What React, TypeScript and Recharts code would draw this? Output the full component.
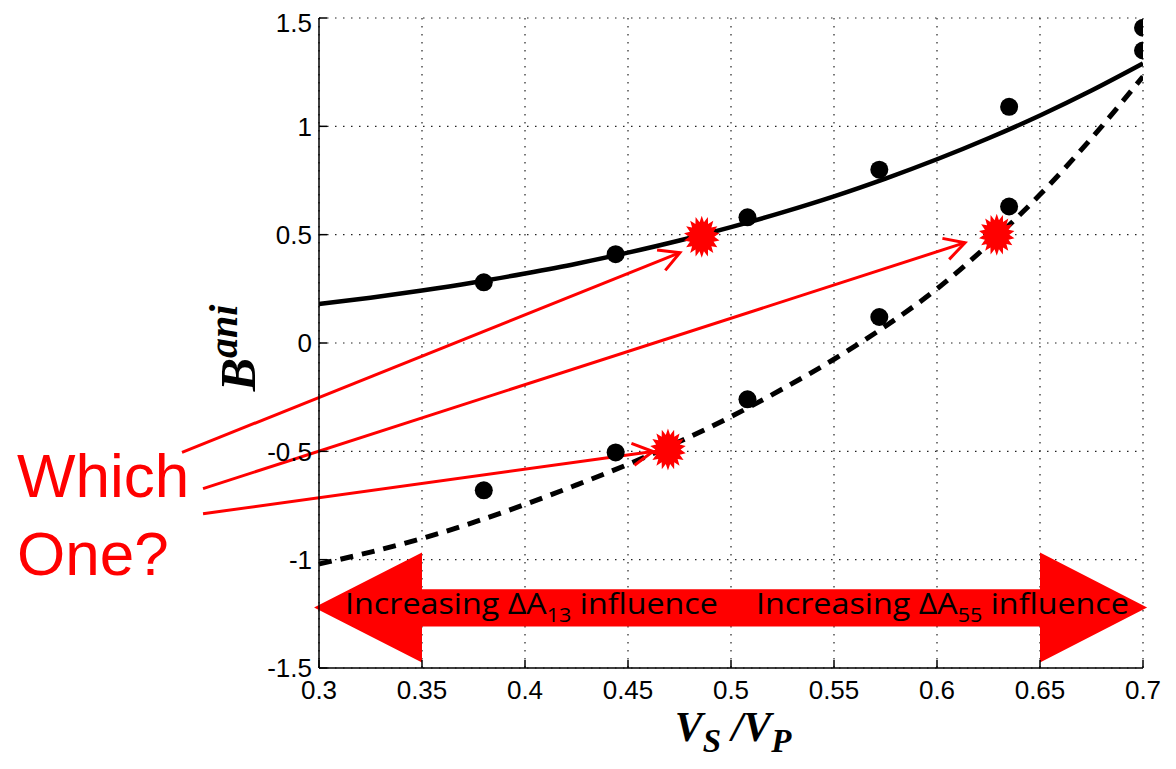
import {
  ComposedChart,
  Line,
  Scatter,
  XAxis,
  YAxis,
  CartesianGrid,
  ReferenceLine,
  ReferenceArea,
  ReferenceDot,
} from 'recharts';

// measured points (Vs/Vp, B^ani)
const vsvp = [0.38, 0.444, 0.508, 0.572, 0.635, 0.7];
const bAniUpper = [0.28, 0.41, 0.58, 0.8, 1.09, 1.455];
const bAniLower = [-0.68, -0.505, -0.26, 0.12, 0.63, 1.35];

// fitted curves
const fitX = [0.3, 0.325, 0.35, 0.375, 0.4, 0.425, 0.45, 0.475, 0.5, 0.525, 0.55, 0.575, 0.6, 0.625, 0.65, 0.675, 0.7];
const fitSolid = [0.18, 0.209, 0.242, 0.279, 0.321, 0.366, 0.417, 0.473, 0.535, 0.603, 0.677, 0.759, 0.848, 0.945, 1.05, 1.165, 1.29];
const fitDashed = [-1.02, -0.965, -0.902, -0.828, -0.745, -0.655, -0.56, -0.455, -0.34, -0.212, -0.075, 0.078, 0.25, 0.455, 0.685, 0.945, 1.23];

// red "which one?" candidates
const starX = [0.4858, 0.629, 0.4694];
const starY = [0.49, 0.5, -0.492];

// annotation arrows: start -> tip
const arrowFrom = [[0.2335, -0.505], [0.2437, -0.672], [0.2437, -0.788]];
const arrowTo = [[0.4752, 0.417], [0.6136, 0.463], [0.4621, -0.501]];

// big double arrow: tip, head base, head base, tip / head bottom, body bottom, body top, head top
const bigArrowX = [0.2976, 0.35, 0.65, 0.702];
const bigArrowY = [-1.475, -1.308, -1.136, -0.967];
const bigArrowTextX = [0.3126, 0.5121];
const bigArrowTextY = -1.252;
const bigArrowSubs = ['13', '55'];

const xTicks = [0.3, 0.35, 0.4, 0.45, 0.5, 0.55, 0.6, 0.65, 0.7];
const yTicks = [-1.5, -1, -0.5, 0, 0.5, 1, 1.5];

const pts = (xs: number[], ys: number[]) => xs.map((x, i) => ({ x, y: ys[i] }));

const RED = '#ff0000';

const Dot = (p: any) => <circle cx={p.cx} cy={p.cy} r={9} fill="#000" />;

const Star = (p: any) => {
  const n = 18;
  const out: string[] = [];
  for (let i = 0; i < n * 2; i++) {
    const a = (Math.PI * i) / n - Math.PI / 2;
    const k = i % 2 === 0 ? 1 : 0.7;
    out.push(`${p.cx + Math.cos(a) * 18 * k},${p.cy + Math.sin(a) * 21 * k}`);
  }
  return <polygon points={out.join(' ')} fill={RED} />;
};

const RedArrow = (p: any) => {
  const { x1, y1, x2, y2 } = p;
  const ang = Math.atan2(y2 - y1, x2 - x1);
  const L = 23;
  const a = 0.5;
  const ax = x2 - L * Math.cos(ang - a);
  const ay = y2 - L * Math.sin(ang - a);
  const bx = x2 - L * Math.cos(ang + a);
  const by = y2 - L * Math.sin(ang + a);
  return (
    <g>
      <line x1={x1} y1={y1} x2={x2} y2={y2} stroke={RED} strokeWidth={3} />
      <polyline points={`${ax},${ay} ${x2},${y2} ${bx},${by}`} fill="none" stroke={RED} strokeWidth={3} />
    </g>
  );
};

const BigArrow = (p: any) => {
  const { x, y, width, height } = p;
  const x0 = bigArrowX[0];
  const x3 = bigArrowX[3];
  const yTop = bigArrowY[3];
  const yBot = bigArrowY[0];
  const px = (v: number) => x + ((v - x0) / (x3 - x0)) * width;
  const py = (v: number) => y + ((yTop - v) / (yTop - yBot)) * height;
  const mid = py((yTop + yBot) / 2);
  const poly = [
    [px(bigArrowX[0]), mid],
    [px(bigArrowX[1]), py(bigArrowY[3])],
    [px(bigArrowX[1]), py(bigArrowY[2])],
    [px(bigArrowX[2]), py(bigArrowY[2])],
    [px(bigArrowX[2]), py(bigArrowY[3])],
    [px(bigArrowX[3]), mid],
    [px(bigArrowX[2]), py(bigArrowY[0])],
    [px(bigArrowX[2]), py(bigArrowY[1])],
    [px(bigArrowX[1]), py(bigArrowY[1])],
    [px(bigArrowX[1]), py(bigArrowY[0])],
  ]
    .map((q) => q.join(','))
    .join(' ');
  return (
    <g>
      <polygon points={poly} fill={RED} />
      {bigArrowTextX.map((tx, i) => (
        <text
          key={i}
          x={px(tx)}
          y={py(bigArrowTextY)}
          fill="#000"
          fontFamily="'Open Sans', sans-serif"
          fontSize={30}
          textLength={373}
          lengthAdjust="spacingAndGlyphs"
        >
          Increasing ΔA
          <tspan fontSize={20} dy={8}>{bigArrowSubs[i]}</tspan>
          <tspan dy={-8}> influence</tspan>
        </text>
      ))}
    </g>
  );
};

const WhichOne = (p: any) => (
  <text x={p.cx} y={p.cy} fill={RED} fontFamily="'Liberation Sans', Arial, sans-serif" fontSize={62}>
    <tspan x={p.cx}>Which</tspan>
    <tspan x={p.cx} dy={78}>One?</tspan>
  </text>
);

const XLabel = (p: any) => {
  const vb = p.viewBox;
  return (
    <text
      x={vb.x + vb.width / 2 + 2}
      y={vb.y + 73}
      textAnchor="middle"
      fontFamily="'Liberation Serif', serif"
      fontWeight="bold"
      fontStyle="italic"
      fontSize={42}
      fill="#000"
    >
      V<tspan fontSize={33} dy={11}>S</tspan>
      <tspan dy={-11}> /V</tspan>
      <tspan fontSize={33} dy={11}>P</tspan>
    </text>
  );
};

const YLabel = (p: any) => {
  const vb = p.viewBox;
  const cx = vb.x + 247;
  const cy = vb.y + vb.height / 2 + 5;
  return (
    <text
      x={cx}
      y={cy}
      transform={`rotate(-90 ${cx} ${cy})`}
      textAnchor="middle"
      fontFamily="'Liberation Serif', serif"
      fontWeight="bold"
      fontStyle="italic"
      fontSize={50}
      fill="#000"
    >
      B<tspan fontSize={40} dy={-18}>ani</tspan>
    </text>
  );
};

const tickStyle = { fontFamily: "'Liberation Sans', Arial, sans-serif", fontSize: 26, fill: '#000' };

export default function App() {
  return (
    <div style={{ position: 'relative', width: 1160, height: 753 }}>
      <ComposedChart width={1160} height={753} margin={{ top: 10, right: 25, left: 0, bottom: 0 }}>
        <CartesianGrid stroke="#222" strokeDasharray="1.5 6.5" strokeWidth={1.2} />
        <XAxis
          type="number"
          dataKey="x"
          domain={[0.3, 0.7]}
          ticks={xTicks}
          allowDataOverflow
          height={93}
          stroke="#000"
          strokeWidth={1.5}
          tickSize={-8}
          tickMargin={21}
          tick={tickStyle}
          label={<XLabel />}
        />
        <YAxis
          type="number"
          dataKey="y"
          domain={[-1.5, 1.5]}
          ticks={yTicks}
          allowDataOverflow
          width={311}
          stroke="#000"
          strokeWidth={1.5}
          tickSize={-8}
          tickMargin={15}
          tick={tickStyle}
          label={<YLabel />}
        />
        <ReferenceArea
          x1={bigArrowX[0]}
          x2={bigArrowX[3]}
          y1={bigArrowY[0]}
          y2={bigArrowY[3]}
          ifOverflow="visible"
          shape={<BigArrow />}
        />
        <Line
          data={pts(fitX, fitSolid)}
          dataKey="y"
          type="monotone"
          stroke="#000"
          strokeWidth={4.5}
          dot={false}
          isAnimationActive={false}
        />
        <Line
          data={pts(fitX, fitDashed)}
          dataKey="y"
          type="monotone"
          stroke="#000"
          strokeWidth={5}
          strokeDasharray="13 9"
          dot={false}
          isAnimationActive={false}
        />
        <Scatter data={pts(vsvp, bAniUpper)} dataKey="y" shape={<Dot />} isAnimationActive={false} />
        <Scatter data={pts(vsvp, bAniLower)} dataKey="y" shape={<Dot />} isAnimationActive={false} />
        {arrowFrom.map((f, i) => (
          <ReferenceLine
            key={i}
            segment={[
              { x: f[0], y: f[1] },
              { x: arrowTo[i][0], y: arrowTo[i][1] },
            ]}
            ifOverflow="visible"
            shape={<RedArrow />}
          />
        ))}
        <Scatter data={pts(starX, starY)} dataKey="y" shape={<Star />} isAnimationActive={false} />
        <ReferenceDot x={0.1534} y={-0.709} ifOverflow="visible" shape={<WhichOne />} />
      </ComposedChart>
    </div>
  );
}
